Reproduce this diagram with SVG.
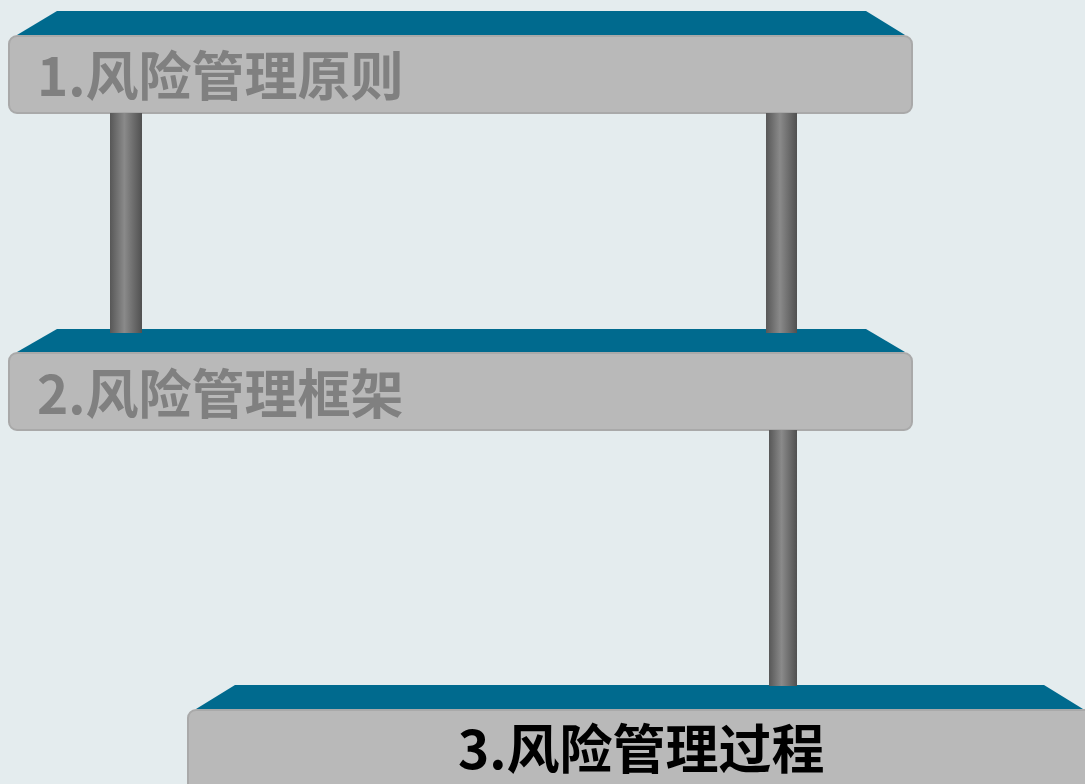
<svg xmlns="http://www.w3.org/2000/svg" width="1085" height="784" viewBox="0 0 1085 784">
<defs>
<linearGradient id="pole" x1="0" y1="0" x2="1" y2="0">
<stop offset="0" stop-color="#575757"/>
<stop offset="0.45" stop-color="#8a8a8a"/>
<stop offset="1" stop-color="#505050"/>
</linearGradient>
<style>
.top{fill:#006a8e}
.box{fill:#b9b9b9;stroke:#a9a9a9;stroke-width:2}
.lbl{font-family:"Noto Sans CJK SC","Noto Sans",sans-serif;font-weight:700;font-size:53px}
.dim{fill:#808080}
.act{fill:#000000}
.pole{fill:url(#pole)}
</style>
</defs>
<rect width="1085" height="784" fill="#e4ecee"/>
<g id="node1">
<polygon class="top" points="57,11 866,11 905,35 17,35"/>
<rect class="box" x="9" y="36" width="903" height="77" rx="8"/>
<text class="lbl dim" x="37" y="96">1.风险管理原则</text>
</g>
<g id="node2">
<polygon class="top" points="57,329 866,329 905,352 17,352"/>
<rect class="box" x="9" y="353" width="903" height="77" rx="8"/>
<text class="lbl dim" x="37" y="414">2.风险管理框架</text>
</g>
<g id="node3">
<polygon class="top" points="235,685 1044,685 1083,709 196,709"/>
<rect class="box" x="188" y="710" width="905" height="90" rx="8"/>
<text class="lbl act" x="458" y="769">3.风险管理过程</text>
</g>
<g id="connectors">
<rect class="pole" x="110" y="113" width="32" height="220"/>
<rect class="pole" x="766" y="113" width="31" height="220"/>
<rect class="pole" x="769" y="430" width="28" height="256"/>
</g>
</svg>
